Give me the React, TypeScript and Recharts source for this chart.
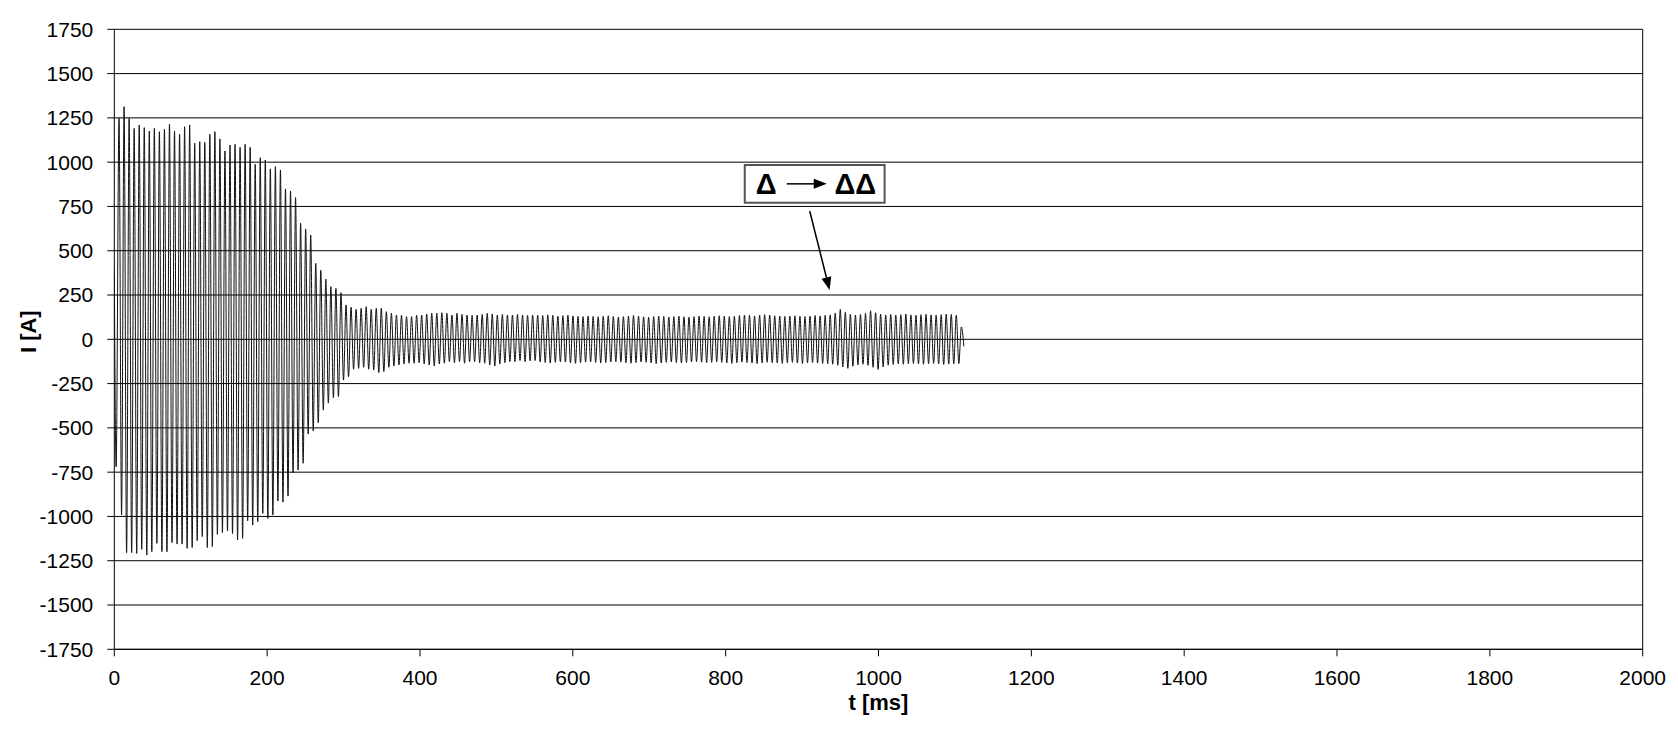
import React from "react";
import {
  LineChart,
  Line,
  XAxis,
  YAxis,
  CartesianGrid,
  ReferenceLine,
  ReferenceArea,
  Label,
} from "recharts";

// time axis ticks (ms) and current ticks (A)
const X_TICKS = [0, 200, 400, 600, 800, 1000, 1200, 1400, 1600, 1800, 2000];
const Y_TICKS = [
  -1750, -1500, -1250, -1000, -750, -500, -250, 0, 250, 500, 750, 1000, 1250, 1500, 1750,
];

// first samples before the oscillation settles into its period
const START_T = [0, 2.4];
const START_I = [390, -720];

// sampled time base of the peaks (ms)
const FIRST_PEAK_T = 6.2;
const PERIOD_MS = 6.6;

// positive peak of every cycle (A)
const POS_PEAKS = [
  1248, 1313, 1248, 1191, 1210, 1195, 1176, 1191, 1172, 1186,
  1214, 1176, 1158, 1200, 1210, 1107, 1116, 1112, 1158, 1172,
  1131, 1063, 1097, 1101, 1084, 1101, 1084, 988, 1025, 1012,
  962, 975, 956, 849, 837, 800, 655, 623, 589, 429,
  390, 340, 297, 288, 263, 194, 181, 169, 175, 184,
  169, 175, 175, 156, 147, 137, 135, 128, 128, 135,
  137, 143, 147, 147, 150, 147, 137, 147, 140, 137,
  135, 137, 140, 147, 143, 137, 140, 137, 137, 140,
  137, 135, 137, 136, 134, 138, 135, 131, 133, 136,
  132, 130, 128, 131, 129, 127, 130, 133, 129, 126,
  128, 131, 134, 130, 127, 125, 128, 131, 129, 126,
  128, 130, 127, 125, 128, 131, 129, 127, 130, 133,
  131, 128, 130, 134, 137, 135, 132, 136, 139, 137,
  133, 131, 129, 131, 133, 130, 128, 131, 134, 132,
  135, 138, 148, 169, 152, 141, 137, 140, 146, 161,
  150, 142, 138, 140, 137, 139, 142, 138, 136, 139,
  141, 138, 136, 139, 142, 140, 137, 70,
];

// negative peak of every cycle (A)
const NEG_PEAKS = [
  -992, -1205, -1205, -1209, -1186, -1218, -1199, -1152, -1199, -1199,
  -1148, -1156, -1156, -1180, -1176, -1137, -1114, -1176, -1171, -1101,
  -1092, -1082, -1097, -1133, -1124, -1024, -1049, -1030, -983, -1011,
  -992, -913, -919, -885, -753, -738, -700, -535, -518, -471,
  -400, -360, -330, -324, -230, -211, -169, -164, -158, -169,
  -173, -188, -182, -158, -151, -145, -139, -135, -135, -132,
  -139, -145, -151, -139, -135, -126, -132, -126, -135, -126,
  -126, -132, -135, -145, -151, -139, -132, -126, -126, -120,
  -126, -122, -120, -128, -131, -134, -130, -127, -129, -133,
  -136, -132, -129, -127, -130, -134, -131, -128, -126, -129,
  -132, -135, -131, -128, -130, -133, -137, -134, -130, -128,
  -131, -134, -131, -128, -126, -129, -132, -130, -127, -130,
  -133, -136, -132, -129, -131, -134, -137, -133, -130, -132,
  -133, -136, -132, -130, -134, -137, -133, -131, -134, -136,
  -138, -141, -147, -156, -164, -152, -144, -141, -147, -158,
  -170, -156, -146, -142, -139, -141, -138, -136, -139, -141,
  -138, -136, -139, -142, -140, -138, -137, -40,
];

const FONT = "'Liberation Sans', Arial, sans-serif";

const data: { t: number; i: number }[] = [];
START_T.forEach((t, n) => data.push({ t, i: START_I[n] }));
POS_PEAKS.forEach((p, k) => {
  const t = FIRST_PEAK_T + PERIOD_MS * k;
  data.push({ t: +t.toFixed(2), i: p });
  data.push({ t: +(t + PERIOD_MS / 2).toFixed(2), i: NEG_PEAKS[k] });
});

function AnnotationBox(props: any) {
  const { x, y, width, height } = props;
  const midY = y + height / 2;
  const base = y + height * 0.77;
  return (
    <g>
      <rect x={x} y={y} width={width} height={height} fill="#fff" stroke="#555" strokeWidth={2} />
      <text x={x + 21.5} y={base} textAnchor="middle" fontFamily={FONT} fontWeight="bold" fontSize={29} fill="#000">
        Δ
      </text>
      <line x1={x + 42} y1={midY} x2={x + 70} y2={midY} stroke="#000" strokeWidth={1.5} />
      <polygon points={`${x + 82},${midY} ${x + 69},${midY - 5} ${x + 69},${midY + 5}`} fill="#000" />
      <text x={x + 110.5} y={base} textAnchor="middle" fontFamily={FONT} fontWeight="bold" fontSize={29} fill="#000">
        ΔΔ
      </text>
    </g>
  );
}

function ArrowLine(props: any) {
  const { x1, y1, x2, y2 } = props;
  const dx = x2 - x1;
  const dy = y2 - y1;
  const len = Math.sqrt(dx * dx + dy * dy) || 1;
  const ux = dx / len;
  const uy = dy / len;
  const headLen = 13;
  const half = 5;
  const bx = x2 - ux * headLen;
  const by = y2 - uy * headLen;
  return (
    <g>
      <line x1={x1} y1={y1} x2={bx} y2={by} stroke="#000" strokeWidth={1.5} />
      <polygon
        points={`${x2},${y2} ${bx - uy * half},${by + ux * half} ${bx + uy * half},${by - ux * half}`}
        fill="#000"
      />
    </g>
  );
}

export default function App() {
  const tickStyle = { fill: "#000", fontSize: 21, fontFamily: FONT };
  return (
    <div style={{ width: 1662, height: 714 }}>
      <LineChart
        width={1662}
        height={714}
        data={data}
        margin={{ top: 21.3, right: 27.3, left: 26.3, bottom: 22.7 }}
      >
        <CartesianGrid vertical={false} stroke="#000" strokeWidth={1} />
        <XAxis
          dataKey="t"
          type="number"
          domain={[0, 2000]}
          ticks={X_TICKS}
          interval={0}
          allowDataOverflow
          height={50}
          tickSize={7}
          tickMargin={14}
          tick={tickStyle}
          stroke="#000"
        >
          <Label
            content={(p: any) => {
              const vb = p.viewBox || {};
              return (
                <text
                  x={vb.x + vb.width / 2}
                  y={vb.y + 60.7}
                  textAnchor="middle"
                  fontFamily={FONT}
                  fontWeight="bold"
                  fontSize={22}
                  fill="#000"
                >
                  t [ms]
                </text>
              );
            }}
          />
        </XAxis>
        <YAxis
          type="number"
          domain={[-1750, 1750]}
          ticks={Y_TICKS}
          interval={0}
          allowDataOverflow
          width={80}
          tickSize={7}
          tickMargin={14}
          tick={tickStyle}
          stroke="#000"
        >
          <Label
            content={(p: any) => {
              const vb = p.viewBox || {};
              const cx = vb.x - 5.3;
              const cy = vb.y + vb.height / 2 - 7.6;
              return (
                <text
                  x={cx}
                  y={cy}
                  transform={`rotate(-90, ${cx}, ${cy})`}
                  textAnchor="middle"
                  dominantBaseline="central"
                  fontFamily={FONT}
                  fontWeight="bold"
                  fontSize={22}
                  fill="#000"
                >
                  I [A]
                </text>
              );
            }}
          />
        </YAxis>
        <ReferenceLine x={2000} stroke="#000" strokeWidth={1} />
        <Line
          type="monotone"
          dataKey="i"
          stroke="#111"
          strokeWidth={1}
          dot={false}
          isAnimationActive={false}
        />
        <ReferenceArea x1={825} x2={1008} y1={771} y2={984} shape={<AnnotationBox />} />
        <ReferenceLine
          segment={[
            { x: 910, y: 724 },
            { x: 936, y: 278 },
          ]}
          shape={(p: any) => <ArrowLine {...p} />}
        />
      </LineChart>
    </div>
  );
}
